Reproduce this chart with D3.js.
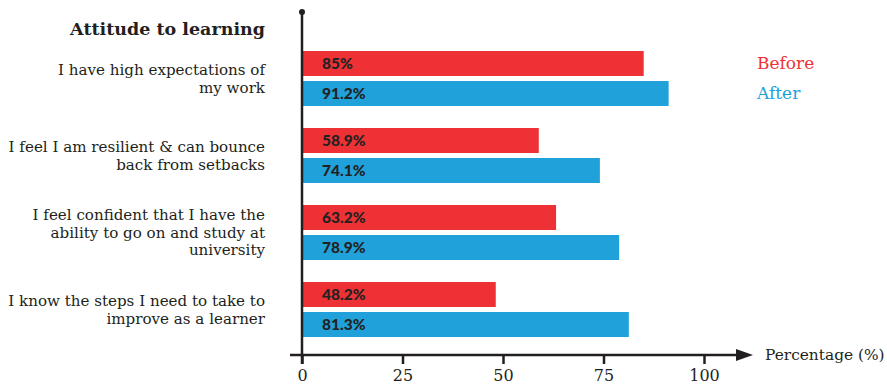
<!DOCTYPE html>
<html>
<head>
<meta charset="utf-8">
<script src="https://cdn.jsdelivr.net/npm/d3@7"></script>
<style>
  body { margin: 0; background: #fff; }
  svg text { font-family: "DejaVu Serif", serif; fill: #231f20; }
</style>
</head>
<body>
<div id="draw-area"></div>
<script>
// chart values
var categories = [
  ["I have high expectations of", "my work"],
  ["I feel I am resilient & can bounce", "back from setbacks"],
  ["I feel confident that I have the", "ability to go on and study at", "university"],
  ["I know the steps I need to take to", "improve as a learner"]
];
var seriesNames = ["Before", "After"];
var before = [85, 58.9, 63.2, 48.2];
var after = [91.2, 74.1, 78.9, 81.3];
var labelsBefore = ["85%", "58.9%", "63.2%", "48.2%"];
var labelsAfter = ["91.2%", "74.1%", "78.9%", "81.3%"];
var xTicks = [0, 25, 50, 75, 100];
var title = "Attitude to learning";
var axisTitle = "Percentage (%)";

var colors = {Before: "#ee3134", After: "#20a1da"};
var ink = "#231f20";

var svgw = 887, svgh = 388;
var svg = d3.select("#draw-area").append("svg")
    .attr("width", svgw)
    .attr("height", svgh);

var x = d3.scaleLinear().domain([0, 100]).range([302, 704]);

var y = d3.scaleBand()
    .domain(d3.range(categories.length))
    .range([51, 337])
    .paddingInner(22/77)
    .paddingOuter(0);

var ySub = d3.scaleBand()
    .domain(seriesNames)
    .range([0, y.bandwidth()])
    .paddingInner(1/6);

var rows = categories.map(function(c, i){
  return {i: i, lines: c, vals: [
    {s: "Before", v: before[i], label: labelsBefore[i]},
    {s: "After", v: after[i], label: labelsAfter[i]}
  ]};
});

// bars
var groups = svg.selectAll("g.grp")
    .data(rows)
    .enter().append("g")
    .attr("class", "grp")
    .attr("transform", function(d){ return "translate(0," + y(d.i) + ")"; });

groups.selectAll("rect")
    .data(function(d){ return d.vals; })
    .enter().append("rect")
    .attr("x", x(0))
    .attr("y", function(d){ return ySub(d.s); })
    .attr("width", function(d){ return x(d.v) - x(0); })
    .attr("height", ySub.bandwidth())
    .style("fill", function(d){ return colors[d.s]; });

groups.selectAll("text.val")
    .data(function(d){ return d.vals; })
    .enter().append("text")
    .attr("class", "val")
    .attr("x", x(0) + 20)
    .attr("y", function(d){ return ySub(d.s) + ySub.bandwidth()/2; })
    .attr("dy", "0.36em")
    .style("font-family", "Lato, sans-serif")
    .style("font-weight", 900)
    .style("font-size", "15.5px")
    .style("fill", "#222")
    .text(function(d){ return d.label; });

// category labels
var lh = 17.5;
groups.append("text")
    .attr("class", "cat")
    .attr("text-anchor", "end")
    .style("font-size", "15.1px")
    .each(function(d){
      var t = d3.select(this);
      var n = d.lines.length;
      d.lines.forEach(function(line, k){
        t.append("tspan")
          .attr("x", 265)
          .attr("y", y.bandwidth()/2 + (k - (n-1)/2) * lh)
          .attr("dy", "0.35em")
          .text(line);
      });
    });

// title
svg.append("text")
    .attr("x", 265)
    .attr("y", 35)
    .attr("text-anchor", "end")
    .style("font-size", "17.5px")
    .style("font-weight", "bold")
    .text(title);

// legend
svg.selectAll("text.leg")
    .data(seriesNames)
    .enter().append("text")
    .attr("class", "leg")
    .attr("x", 757)
    .attr("y", function(d){ return y(0) + ySub(d) + ySub.bandwidth()/2; })
    .attr("dy", "0.35em")
    .style("font-size", "17px")
    .style("fill", function(d){ return colors[d]; })
    .text(function(d){ return d; });

// y axis line with dot
var yAxisY = 355;
svg.append("line")
    .attr("x1", x(0)).attr("x2", x(0))
    .attr("y1", 12).attr("y2", yAxisY + 9)
    .style("stroke", ink).style("stroke-width", 2.5);
svg.append("circle")
    .attr("cx", x(0)).attr("cy", 12).attr("r", 3)
    .style("fill", ink);

// x axis
var xAxis = svg.append("g")
    .attr("class", "x axis")
    .attr("transform", "translate(0," + yAxisY + ")")
    .call(d3.axisBottom(x).tickValues(xTicks).tickSize(9).tickPadding(6));
xAxis.select(".domain").remove();
xAxis.selectAll(".tick line").style("stroke", ink).style("stroke-width", 2.5);
xAxis.selectAll(".tick text")
    .style("font-family", "DejaVu Serif, serif")
    .style("font-size", "16px")
    .style("fill", ink);

svg.append("line")
    .attr("x1", 290).attr("x2", 740)
    .attr("y1", yAxisY).attr("y2", yAxisY)
    .style("stroke", ink).style("stroke-width", 2.5);
svg.append("path")
    .attr("d", "M736," + (yAxisY - 6) + "L753," + yAxisY + "L736," + (yAxisY + 6) + "Z")
    .style("fill", ink);

svg.append("text")
    .attr("x", 765)
    .attr("y", yAxisY)
    .attr("dy", "0.35em")
    .style("font-size", "15.4px")
    .text(axisTitle);
</script>
</body>
</html>
